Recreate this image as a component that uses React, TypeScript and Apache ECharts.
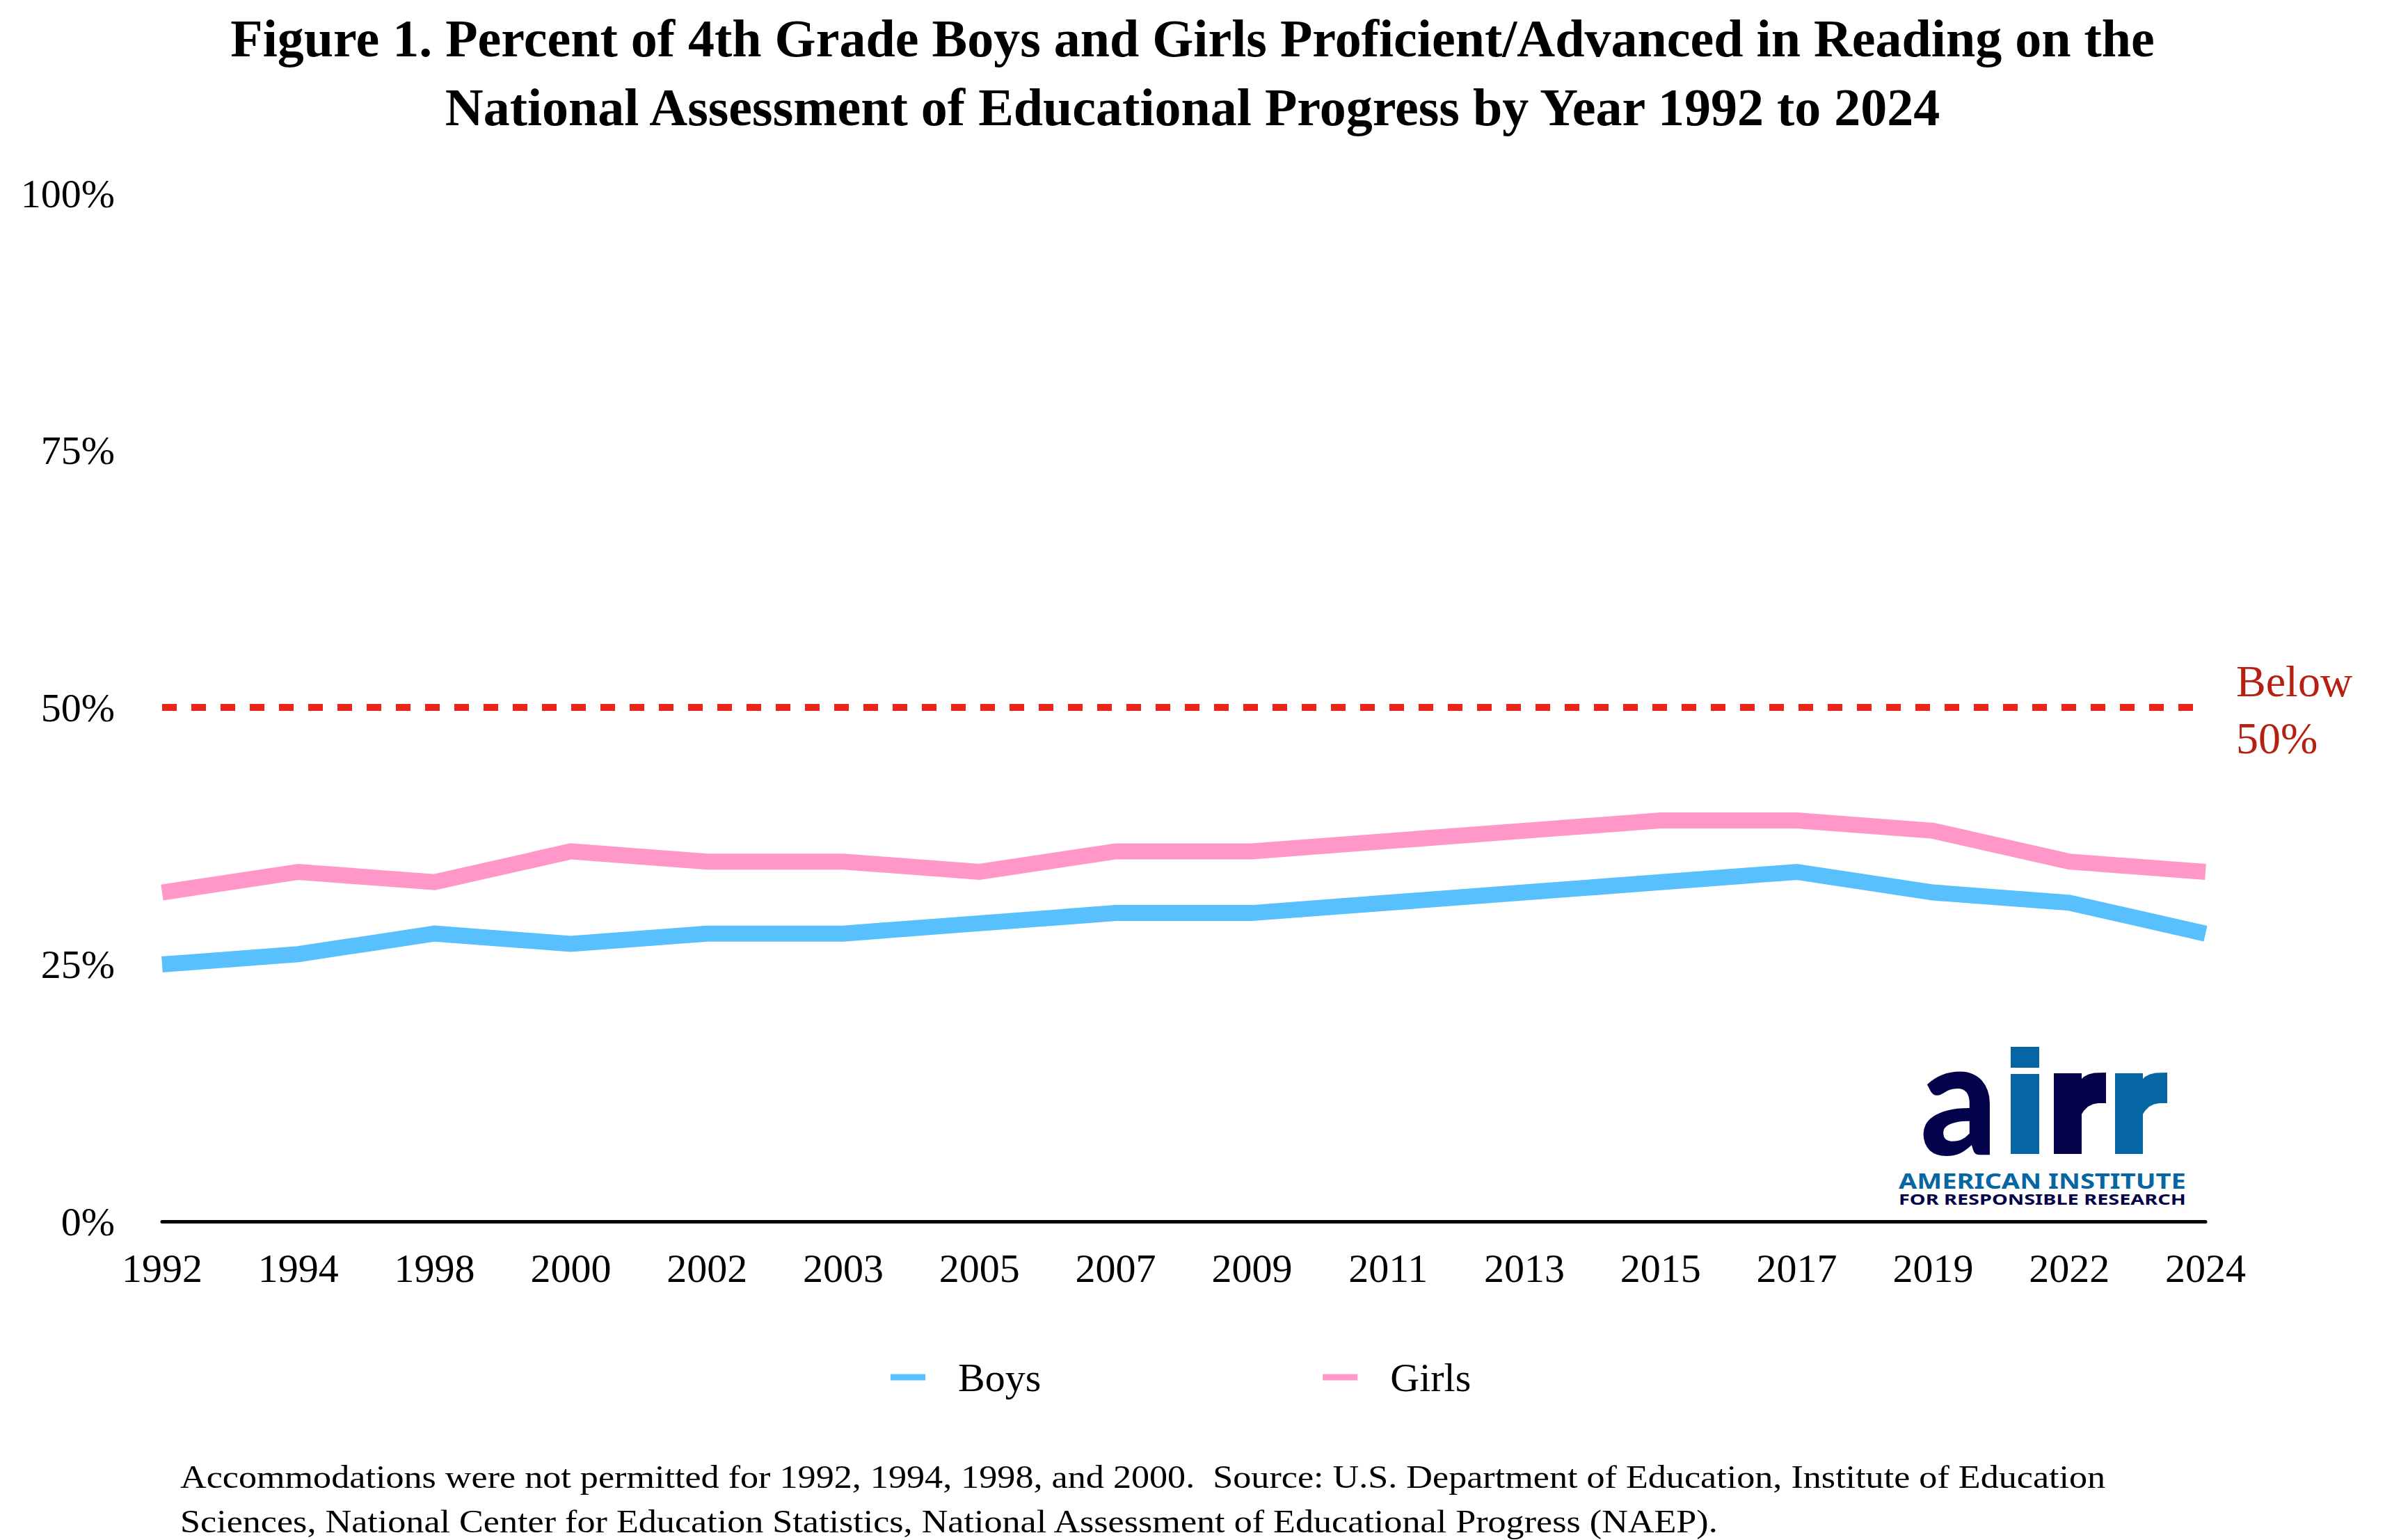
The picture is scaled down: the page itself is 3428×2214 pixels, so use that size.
import { useEffect, useRef } from "react";
import * as echarts from "echarts";

const years = ["1992", "1994", "1998", "2000", "2002", "2003", "2005", "2007", "2009", "2011", "2013", "2015", "2017", "2019", "2022", "2024"];
const boys = [25, 26, 28, 27, 28, 28, 29, 30, 30, 31, 32, 33, 34, 32, 31, 28];
const girls = [32, 34, 33, 36, 35, 35, 34, 36, 36, 37, 38, 39, 39, 38, 35, 34];
const threshold = 50;

const TITLE = [
  "Figure 1. Percent of 4th Grade Boys and Girls Proficient/Advanced in Reading on the",
  "National Assessment of Educational Progress by Year 1992 to 2024",
];
const NOTE = [
  "Accommodations were not permitted for 1992, 1994, 1998, and 2000.  Source: U.S. Department of Education, Institute of Education",
  "Sciences, National Center for Education Statistics, National Assessment of Educational Progress (NAEP).",
];

const SERIF = "'Liberation Serif', 'DejaVu Serif', serif";
const NAVY = "#03024a";
const LOGO_BLUE = "#0666a3";

// horizontal stretch so a text fills a given width
const fitScale = (text: string, font: string, target: number) => {
  const ctx = document.createElement("canvas").getContext("2d");
  if (!ctx) return 1;
  ctx.font = font;
  const w = ctx.measureText(text).width;
  return w > 0 ? target / w : 1;
};

// the "r" of the logo: stem plus a flat-topped shoulder
const logoR = (x0: number, fill: string) => [
  { type: "rect", shape: { x: x0, y: 1543, width: 40, height: 116 }, style: { fill } },
  {
    type: "polygon",
    shape: {
      points: [
        [x0 + 38, 1553],
        [x0 + 43, 1548],
        [x0 + 50, 1544.5],
        [x0 + 58, 1542.5],
        [x0 + 75, 1542],
        [x0 + 75, 1586],
        [x0 + 64, 1586],
        [x0 + 56, 1587.5],
        [x0 + 49, 1591],
        [x0 + 43, 1597],
        [x0 + 38, 1605],
      ],
    },
    style: { fill },
  },
];

const App = () => {
  const chartRef = useRef<HTMLDivElement>(null);

  useEffect(() => {
    document.body.style.margin = "0";
    if (!chartRef.current) return;
    const chart = echarts.init(chartRef.current, undefined, { renderer: "svg" });

    const aFont = "900 228px Lato";
    const line1Font = "bold 30px 'Noto Sans'";
    const line2Font = "bold 21px 'Noto Sans'";
    const noteFont = `46px ${SERIF}`;
    const noteScale = fitScale(NOTE[0], noteFont, 2768);

    const option: echarts.EChartsOption = {
      animation: false,
      backgroundColor: "#fff",
      title: {
        text: TITLE.join("\n"),
        left: "center",
        top: 0,
        textStyle: {
          fontFamily: SERIF,
          fontSize: 76,
          fontWeight: "bold",
          lineHeight: 99,
          color: "#000",
        },
      },
      legend: {
        left: 1275,
        top: 1946,
        icon: "rect",
        itemWidth: 50,
        itemHeight: 9,
        itemGap: 405,
        textStyle: { fontFamily: SERIF, fontSize: 58, color: "#000", padding: [0, 0, 0, 42] },
        data: ["Boys", "Girls"],
      },
      grid: { left: 233, right: 258, top: 278, bottom: 458, containLabel: false },
      xAxis: {
        type: "category",
        data: years,
        boundaryGap: false,
        axisLine: { lineStyle: { color: "#000", width: 5 } },
        axisTick: { show: false },
        axisLabel: { interval: 0, fontFamily: SERIF, fontSize: 58, color: "#000", margin: 38 },
        splitLine: { show: false },
      },
      yAxis: {
        type: "value",
        min: 0,
        max: 100,
        interval: 25,
        axisLine: { show: false },
        axisTick: { show: false },
        splitLine: { show: false },
        axisLabel: { formatter: "{value}%", fontFamily: SERIF, fontSize: 58, color: "#000", margin: 68 },
      },
      series: [
        {
          name: "Boys",
          type: "line",
          data: boys,
          symbol: "none",
          color: "#58c0fd",
          itemStyle: { color: "#58c0fd" },
          lineStyle: { color: "#58c0fd", width: 23, cap: "butt", join: "miter" },
          markLine: {
            silent: true,
            symbol: ["none", "none"],
            label: { show: false },
            lineStyle: { color: "#ea2419", width: 10, type: [21, 21] },
            data: [{ yAxis: threshold }],
          },
        },
        {
          name: "Girls",
          type: "line",
          data: girls,
          symbol: "none",
          color: "#ff97c9",
          itemStyle: { color: "#ff97c9" },
          lineStyle: { color: "#ff97c9", width: 23, cap: "butt", join: "miter" },
        },
      ],
      graphic: [
        {
          type: "text",
          left: 3214,
          top: 938,
          style: {
            text: "Below\n50%",
            font: `64px ${SERIF}`,
            lineHeight: 82,
            fill: "#b52010",
          },
        },
        {
          type: "text",
          x: 259,
          y: 2092,
          scaleX: noteScale,
          style: {
            text: NOTE.join("\n"),
            font: noteFont,
            lineHeight: 64,
            fill: "#000",
            verticalAlign: "top",
          },
        },
        // logo: a i r r
        {
          type: "text",
          x: 2760,
          y: 1571,
          scaleX: fitScale("a", aFont, 111),
          style: { text: "a", font: aFont, fill: NAVY, verticalAlign: "middle" },
        },
        { type: "rect", shape: { x: 2890, y: 1505, width: 41, height: 30 }, style: { fill: LOGO_BLUE } },
        { type: "rect", shape: { x: 2890, y: 1544, width: 41, height: 115 }, style: { fill: LOGO_BLUE } },
        ...logoR(2952, NAVY),
        ...logoR(3040, LOGO_BLUE),
        {
          type: "text",
          x: 2729,
          y: 1697,
          scaleX: fitScale("AMERICAN INSTITUTE", line1Font, 413),
          style: { text: "AMERICAN INSTITUTE", font: line1Font, fill: LOGO_BLUE, verticalAlign: "middle" },
        },
        {
          type: "text",
          x: 2729,
          y: 1724,
          scaleX: fitScale("FOR RESPONSIBLE RESEARCH", line2Font, 413),
          style: { text: "FOR RESPONSIBLE RESEARCH", font: line2Font, fill: NAVY, verticalAlign: "middle" },
        },
      ] as any,
    };

    chart.setOption(option);
    return () => chart.dispose();
  }, []);

  return <div ref={chartRef} style={{ width: 3428, height: 2214 }} />;
};

export default App;
